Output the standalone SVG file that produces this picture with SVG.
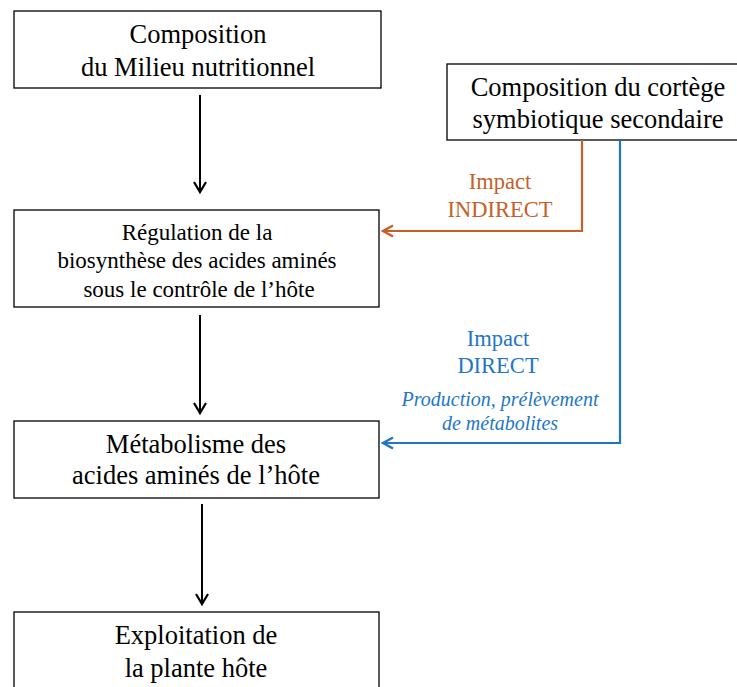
<svg xmlns="http://www.w3.org/2000/svg" width="737" height="687" viewBox="0 0 737 687">
<defs>
<style>
.box{fill:#fff;stroke:#000;stroke-width:1.3}
.t{font-family:"Liberation Serif","Times New Roman",serif;text-anchor:middle;fill:#000}
.big{font-size:26.5px}
.mid{font-size:23px}
.or{fill:#C65F2A;font-size:22.5px}
.bl{fill:#1E77C6;font-size:22.5px}
.it{font-style:italic;font-size:20px;fill:#1E77C6}
.k{stroke:#000;stroke-width:2;fill:none}
</style>
<marker id="ak" markerWidth="14" markerHeight="14" refX="11" refY="7" orient="auto" markerUnits="userSpaceOnUse">
<path d="M1,1 L11,7 L1,13" fill="none" stroke="#000" stroke-width="2.2"/>
</marker>
<marker id="ao" markerWidth="14" markerHeight="14" refX="12" refY="7" orient="auto" markerUnits="userSpaceOnUse">
<path d="M2,1.5 L12,7 L2,12.5" fill="none" stroke="#C65F2A" stroke-width="2.4"/>
</marker>
<marker id="ab" markerWidth="14" markerHeight="14" refX="12" refY="7" orient="auto" markerUnits="userSpaceOnUse">
<path d="M2,1.5 L12,7 L2,12.5" fill="none" stroke="#1E77C6" stroke-width="2.4"/>
</marker>
</defs>
<rect width="737" height="687" fill="#fff"/>
<g id="n1">
<rect class="box" x="14" y="11" width="367" height="77"/>
<text class="t big" x="198" y="43">Composition</text>
<text class="t big" x="198" y="76">du Milieu nutritionnel</text>
</g>
<g id="n2">
<rect class="box" x="447" y="64" width="300" height="76"/>
<text class="t big" x="598" y="96">Composition du cortège</text>
<text class="t big" x="598" y="128">symbiotique secondaire</text>
</g>
<g id="n3">
<rect class="box" x="14" y="210" width="365" height="97"/>
<text class="t mid" x="197" y="240">Régulation de la</text>
<text class="t mid" x="197" y="268">biosynthèse des acides aminés</text>
<text class="t mid" x="199" y="297">sous le contrôle de l’hôte</text>
</g>
<g id="n4">
<rect class="box" x="14" y="421" width="365" height="77"/>
<text class="t big" x="196" y="453">Métabolisme des</text>
<text class="t big" x="196" y="484">acides aminés de l’hôte</text>
</g>
<g id="n5">
<rect class="box" x="14" y="612" width="365" height="90"/>
<text class="t big" x="196" y="644">Exploitation de</text>
<text class="t big" x="196" y="677">la plante hôte</text>
</g>
<g id="connectors">
<line class="k" x1="200" y1="95" x2="200" y2="192" marker-end="url(#ak)"/>
<line class="k" x1="200" y1="315" x2="200" y2="413" marker-end="url(#ak)"/>
<line class="k" x1="202" y1="504" x2="202" y2="604" marker-end="url(#ak)"/>
<polyline points="582,140 582,231 383,231" fill="none" stroke="#C65F2A" stroke-width="2.2" marker-end="url(#ao)"/>
<polyline points="620,140 620,443 383,443" fill="none" stroke="#1E77C6" stroke-width="2.2" marker-end="url(#ab)"/>
<text class="t or" x="500" y="189">Impact</text>
<text class="t or" x="500" y="217">INDIRECT</text>
<text class="t bl" x="498" y="346">Impact</text>
<text class="t bl" x="498" y="373">DIRECT</text>
<text class="t it" x="500" y="406">Production, prélèvement</text>
<text class="t it" x="500" y="430">de métabolites</text>
</g>
</svg>
